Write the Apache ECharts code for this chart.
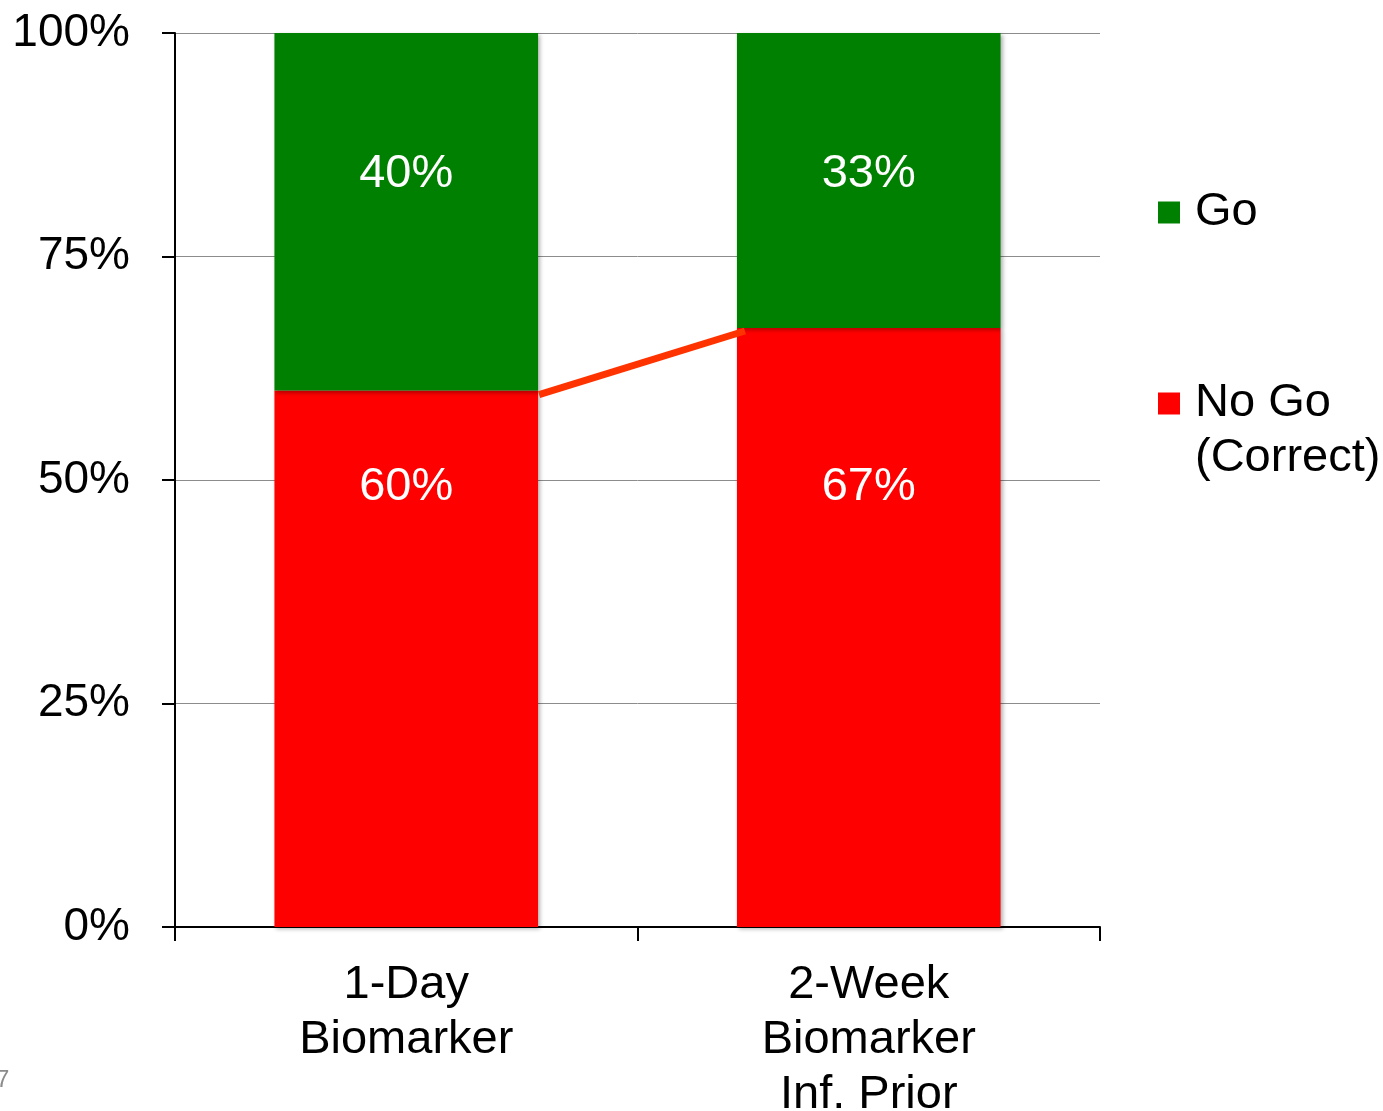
<!DOCTYPE html>
<html>
<head>
<meta charset="utf-8">
<script src="https://cdn.jsdelivr.net/npm/echarts@6/dist/echarts.min.js"></script>
<style>
  html, body { margin: 0; padding: 0; background: #fff; }
  #chart { width: 1383px; height: 1111px; }
</style>
</head>
<body>
<div id="chart"></div>
<script>
const categories = ['1-Day\nBiomarker', '2-Week\nBiomarker\nInf. Prior']
const noGoValues = [60, 67]
const goValues = [40, 33]
const yTicks = [0, 25, 50, 75, 100]
// label distance from each red bar's top (px)
const noGoLabelTop = [96, 159]

const font = '"Liberation Sans", Arial, sans-serif'
const barFrac = 0.57

const chart = echarts.init(document.getElementById('chart'))

const barShadow = {
  shadowBlur: 4,
  shadowOffsetX: 2,
  shadowOffsetY: 2,
  shadowColor: 'rgba(0,0,0,0.3)',
}

const legendText = { fontFamily: font, fontSize: 47, color: '#000', lineHeight: 55, padding: [0, 0, 0, 10] }

chart.setOption({
  animation: false,
  grid: { left: 175, right: 283, top: 33, bottom: 184, outerBoundsMode: 'none', containLabel: false },
  legend: [
    {
      data: ['Go'],
      left: 1153,
      top: 180,
      itemWidth: 22,
      itemHeight: 22,
      icon: 'rect',
      textStyle: legendText,
    },
    {
      data: ['No Go (Correct)'],
      left: 1153,
      top: 316,
      itemWidth: 22,
      itemHeight: 22,
      icon: 'rect',
      formatter: () => '\nNo Go\n(Correct)',
      textStyle: legendText,
    },
  ],
  xAxis: {
    type: 'category',
    data: categories,
    axisLine: { lineStyle: { color: '#000', width: 2 } },
    axisTick: { show: true, length: 14, lineStyle: { color: '#000', width: 2 } },
    axisLabel: { fontFamily: font, fontSize: 47, color: '#000', lineHeight: 55, margin: 31 },
  },
  yAxis: {
    type: 'value',
    min: yTicks[0],
    max: yTicks[yTicks.length - 1],
    interval: 25,
    axisLine: { show: true, lineStyle: { color: '#000', width: 2 } },
    axisTick: { show: true, length: 13, lineStyle: { color: '#000', width: 2 } },
    axisLabel: { fontFamily: font, fontSize: 46, color: '#000', margin: 45, formatter: '{value}%' },
    splitLine: { lineStyle: { color: '#8c8c8c', width: 1 } },
  },
  series: [
    {
      name: 'No Go (Correct)',
      type: 'bar',
      stack: 'total',
      barWidth: barFrac * 100 + '%',
      itemStyle: Object.assign({ color: '#ff0000' }, barShadow),
      data: noGoValues.map((v, i) => ({
        value: v,
        label: { position: ['50%', noGoLabelTop[i]] },
      })),
      label: {
        show: true,
        align: 'center',
        verticalAlign: 'middle',
        formatter: '{c}%',
        fontFamily: font,
        fontSize: 47,
        color: '#fff',
      },
    },
    {
      name: 'Go',
      type: 'bar',
      stack: 'total',
      barWidth: barFrac * 100 + '%',
      itemStyle: Object.assign({ color: '#008000' }, barShadow),
      data: goValues,
      label: {
        show: true,
        position: ['50%', 141],
        align: 'center',
        verticalAlign: 'middle',
        formatter: '{c}%',
        fontFamily: font,
        fontSize: 47,
        color: '#fff',
      },
    },
    {
      type: 'custom',
      silent: true,
      z: 5,
      data: [[0, noGoValues[0], 1, noGoValues[1]]],
      encode: { x: [0, 2], y: [1, 3] },
      renderItem: (params, api) => {
        const p1 = api.coord([api.value(0), api.value(1)])
        const p2 = api.coord([api.value(2), api.value(3)])
        const band = api.size([1, 0])[0]
        const half = (band * barFrac) / 2
        return {
          type: 'line',
          shape: { x1: p1[0] + half + 1, y1: p1[1] + 4, x2: p2[0] - half + 8, y2: p2[1] + 3 },
          style: { stroke: '#ff3300', lineWidth: 7 },
        }
      },
    },
  ],
  graphic: [
    {
      type: 'text',
      left: -4,
      top: 1068,
      style: { text: '7', fontFamily: font, fontSize: 24, fill: '#8c8c8c' },
    },
  ],
})
</script>
</body>
</html>
